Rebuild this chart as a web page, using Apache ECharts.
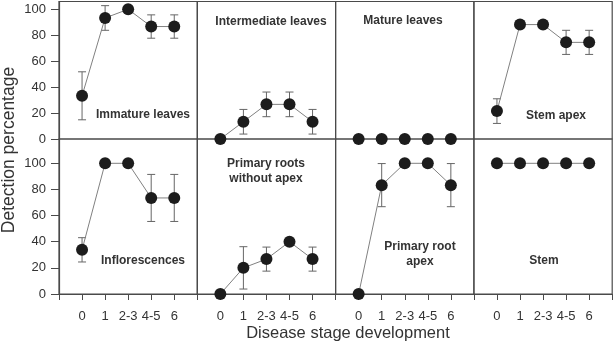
<!DOCTYPE html>
<html>
<head>
<meta charset="utf-8">
<script src="https://cdn.jsdelivr.net/npm/echarts@6/dist/echarts.min.js"></script>
<style>
  html, body { margin: 0; padding: 0; background: #fff; }
  #chart { width: 614px; height: 350px; }
</style>
</head>
<body>
<div id="chart"></div>
<script>
// stages on the x axis, plotted at positions 1..5
var stages = ['0', '1', '2-3', '4-5', '6'];
var yTicks = [0, 20, 40, 60, 80, 100];

// detection percentage (mean) and error bar half-length per tissue
var immatureLeaves = [33.3, 93.3, 100, 86.7, 86.7];
var immatureLeavesErr = [18.5, 9.5, 0, 9, 9];
var intermediateLeaves = [0, 13.3, 26.7, 26.7, 13.3];
var intermediateLeavesErr = [0, 9.5, 9.5, 9.5, 9.5];
var matureLeaves = [0, 0, 0, 0, 0];
var matureLeavesErr = [0, 0, 0, 0, 0];
var stemApex = [21.5, 88.2, 88.2, 74.5, 74.5];
var stemApexErr = [9.5, 0, 0, 9.3, 9.3];
var inflorescences = [33.8, 100, 100, 73.5, 73.5];
var inflorescencesErr = [9.3, 0, 0, 18, 18];
var primaryRootsNoApex = [0, 20, 26.7, 40, 26.7];
var primaryRootsNoApexErr = [0, 16.2, 9.2, 0, 9.2];
var primaryRootApex = [0, 83.3, 100, 100, 83.3];
var primaryRootApexErr = [0, 16.5, 0, 0, 16.5];
var stem = [100, 100, 100, 100, 100];
var stemErr = [0, 0, 0, 0, 0];

var panels = [
  { name: 'Immature leaves', vals: immatureLeaves, err: immatureLeavesErr, lx: 143, ly: 115 },
  { name: 'Intermediate leaves', vals: intermediateLeaves, err: intermediateLeavesErr, lx: 271, ly: 22 },
  { name: 'Mature leaves', vals: matureLeaves, err: matureLeavesErr, lx: 403, ly: 21 },
  { name: 'Stem apex', vals: stemApex, err: stemApexErr, lx: 556, ly: 116 },
  { name: 'Inflorescences', vals: inflorescences, err: inflorescencesErr, lx: 143, ly: 261 },
  { name: 'Primary roots\nwithout apex', vals: primaryRootsNoApex, err: primaryRootsNoApexErr, lx: 266, ly: 171 },
  { name: 'Primary root\napex', vals: primaryRootApex, err: primaryRootApexErr, lx: 420, ly: 254 },
  { name: 'Stem', vals: stem, err: stemErr, lx: 544, ly: 261 }
];

var chart = echarts.init(document.getElementById('chart'));

var grids = [], xAxes = [], yAxes = [], series = [], texts = [];
var colW = 138.3;
var font = '"Liberation Sans", Arial, sans-serif';

panels.forEach(function (p, k) {
  var row = Math.floor(k / 4), col = k % 4;
  var top = row === 0 ? 1.5 : 139;
  var height = row === 0 ? 137.5 : 155;
  var yMax = row === 0 ? 106 : 118.6;

  grids.push({
    left: 59 + col * colW, top: top, width: colW, height: height,
    show: true, borderColor: '#4a4a4a', borderWidth: 1.2, backgroundColor: 'transparent'
  });

  xAxes.push({
    gridIndex: k, type: 'value', min: 0, max: 6, interval: 1,
    show: row === 1,
    axisLine: { show: true, lineStyle: { color: '#4a4a4a', width: 1.2 } },
    axisTick: { show: true, length: 6, lineStyle: { color: '#4a4a4a' } },
    axisLabel: {
      customValues: [1, 2, 3, 4, 5], margin: 16, fontSize: 13, color: '#333', fontFamily: font,
      formatter: function (v) { return stages[Math.round(v) - 1]; }
    },
    splitLine: { show: false }
  });

  yAxes.push({
    gridIndex: k, type: 'value', min: 0, max: yMax,
    show: col === 0,
    axisLine: { show: true, lineStyle: { color: '#4a4a4a', width: 1.2 } },
    axisTick: { show: true, customValues: yTicks, length: 8, lineStyle: { color: '#4a4a4a' } },
    axisLabel: { customValues: yTicks, margin: 13, fontSize: 13, color: '#333', fontFamily: font },
    splitLine: { show: false }
  });

  var pts = p.vals.map(function (v, i) { return [i + 1, v]; });
  var bars = [];
  p.vals.forEach(function (v, i) {
    if (p.err[i] > 0) bars.push([i + 1, v - p.err[i], v + p.err[i]]);
  });

  series.push({
    type: 'custom', xAxisIndex: k, yAxisIndex: k, z: 2, silent: true,
    data: bars,
    renderItem: function (params, api) {
      var x = api.coord([api.value(0), api.value(1)])[0];
      var lo = api.coord([api.value(0), api.value(1)])[1];
      var hi = api.coord([api.value(0), api.value(2)])[1];
      var w = 4;
      var st = { stroke: '#666', lineWidth: 1 };
      return {
        type: 'group',
        children: [
          { type: 'line', shape: { x1: x, y1: lo, x2: x, y2: hi }, style: st },
          { type: 'line', shape: { x1: x - w, y1: lo, x2: x + w, y2: lo }, style: st },
          { type: 'line', shape: { x1: x - w, y1: hi, x2: x + w, y2: hi }, style: st }
        ]
      };
    }
  });

  series.push({
    type: 'line', xAxisIndex: k, yAxisIndex: k, z: 3,
    data: pts, symbol: 'circle', symbolSize: 12, clip: false,
    itemStyle: { color: '#1c1c1c' },
    lineStyle: { color: '#808080', width: 1 },
    emphasis: { disabled: true }
  });

  texts.push({
    type: 'text', x: p.lx, y: p.ly,
    style: {
      text: p.name, textAlign: 'center', textVerticalAlign: 'middle',
      font: 'bold 12px ' + font, fill: '#333', lineHeight: 15
    }
  });
});

texts.push({
  type: 'text', x: 348, y: 333,
  style: { text: 'Disease stage development', textAlign: 'center', textVerticalAlign: 'middle',
           font: '16.5px ' + font, fill: '#333' }
});
texts.push({
  type: 'text', x: 9, y: 150, rotation: Math.PI / 2,
  style: { text: 'Detection percentage', textAlign: 'center', textVerticalAlign: 'middle',
           font: '17.5px ' + font, fill: '#333' }
});

chart.setOption({
  animation: false,
  grid: grids,
  xAxis: xAxes,
  yAxis: yAxes,
  series: series,
  graphic: texts
});
</script>
</body>
</html>
